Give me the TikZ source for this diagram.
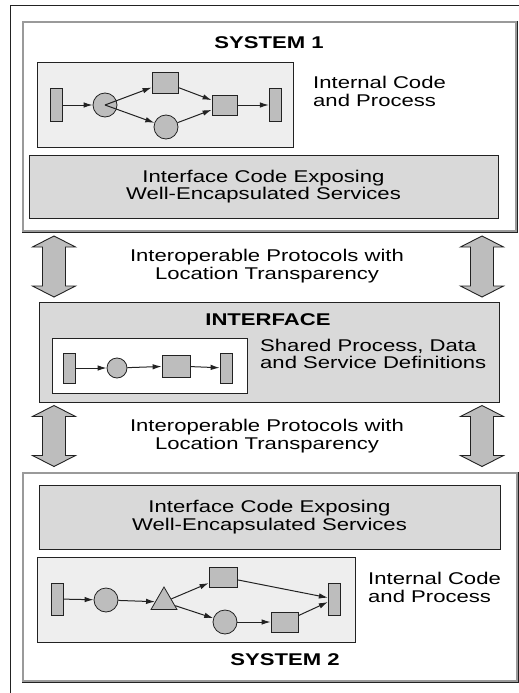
\documentclass[tikz,border=0pt]{standalone}
\usepackage{fontspec}
\newfontfamily\dgfam[FakeStretch=1.3]{Liberation Sans}
\newcommand\dgfont{\dgfam\fontsize{17pt}{17.5pt}\selectfont}
\usetikzlibrary{shapes.geometric,arrows.meta}
\definecolor{lightfill}{HTML}{EEEEEE}
\definecolor{midfill}{HTML}{D9D9D9}
\definecolor{shapegray}{HTML}{BDBDBD}
\definecolor{darkline}{HTML}{222222}
\definecolor{framegray}{HTML}{9A9A9A}
\tikzset{
  txt/.style={font=\dgfont, inner sep=0pt, align=center, text=black},
  txtl/.style={font=\dgfont, inner sep=0pt, align=left, text=black},
  ttl/.style={font=\dgfont\bfseries, inner sep=0pt},
  sysbox/.style={draw=darkline, line width=0.9pt, fill=white, rectangle, inner sep=0pt},
  sysinner/.style={draw=framegray, line width=1.4pt},
  procbox/.style={draw=darkline, line width=0.9pt, fill=lightfill, rectangle, inner sep=0pt},
  codebox/.style={draw=darkline, line width=0.9pt, fill=midfill, rectangle, inner sep=0pt, font=\dgfont, align=center},
  whitebox/.style={draw=darkline, line width=0.9pt, fill=white, rectangle, inner sep=0pt},
  bar/.style={draw=darkline, line width=0.8pt, fill=shapegray, rectangle, inner sep=0pt, minimum width=11.5pt, minimum height=33pt},
  blk/.style={draw=darkline, line width=0.8pt, fill=shapegray, rectangle, inner sep=0pt, minimum width=26pt, minimum height=21pt},
  circ/.style={draw=darkline, line width=0.8pt, fill=shapegray, circle, inner sep=0pt, minimum size=24pt},
  tri/.style={draw=darkline, line width=0.8pt, fill=shapegray, regular polygon, regular polygon sides=3, inner sep=0pt, minimum size=30pt},
  flow/.style={draw=darkline, line width=1pt, -{Latex[length=9pt,width=5.5pt]}},
  bigarrow/.style={draw=darkline, line width=0.9pt, fill=shapegray},
  dblarrow/.pic={\path[bigarrow] (0,-30.5) -- (21.5,-19.5) -- (11.5,-19.5) -- (11.5,19.5) -- (21.5,19.5) -- (0,30.5) -- (-21.5,19.5) -- (-11.5,19.5) -- (-11.5,-19.5) -- (-21.5,-19.5) -- cycle;}
}
\begin{document}
\begin{tikzpicture}[x=1pt,y=-1pt]
\useasboundingbox[fill=white] (0,0) rectangle (519,693);
% outer frame lines
\draw[darkline, line width=1pt] (10.5,693) -- (10.5,5.5) -- (519,5.5);

% ---------------- SYSTEM 1 ----------------
\node[sysbox, minimum width=495pt, minimum height=211pt] (sys1) at (269.5,126.5) {};
\draw[sysinner] ([shift={(1.5pt,-1.5pt)}]sys1.north west) rectangle ([shift={(-1.5pt,1.5pt)}]sys1.south east);
\node[ttl] (sys1t) at (269,43) {SYSTEM 1};
\node[procbox, minimum width=256pt, minimum height=85pt] (p1) at (165,104.5) {};
\node[txtl, anchor=west] (int1) at (313,91.5) {Internal Code\\and Process};
\node[codebox, minimum width=469pt, minimum height=63pt] (code1) at (263.5,186.5) {Interface Code Exposing\\Well-Encapsulated Services};

\node[bar] (b1l) at (56.5,105) {};
\node[circ] (c1) at (105,105) {};
\node[blk] (r1t) at (165,82.5) {};
\node[circ] (c1b) at (166,127) {};
\node[blk, minimum width=25pt, minimum height=20pt] (r1r) at (224.5,105) {};
\node[bar, minimum width=12.5pt] (b1r) at (275.5,105) {};
\draw[flow] (b1l) -- (c1);
\draw[flow] (c1.center) -- (r1t);
\draw[flow] (c1.center) -- (c1b);
\draw[flow] (r1t) -- (r1r);
\draw[flow] (c1b) -- (r1r);
\draw[flow] (r1r) -- (b1r);

% ---------------- upper protocol arrows ----------------
\pic at (54,266.5) {dblarrow};
\pic at (482,266.5) {dblarrow};
\node[txt] (prot1) at (267,266) {Interoperable Protocols with\\Location Transparency};

% ---------------- INTERFACE ----------------
\node[codebox, minimum width=460pt, minimum height=100pt] (iface) at (269,352) {};
\node[ttl] (ifacet) at (268,320) {INTERFACE};
\node[whitebox, minimum width=195pt, minimum height=55pt] (wi) at (149.5,365.5) {};
\node[txtl, anchor=west] (shared) at (260,354) {Shared Process, Data\\and Service Definitions};
\node[bar, minimum width=12pt, minimum height=30pt] (bil) at (69,368) {};
\node[circ, minimum size=20pt] (ci) at (117,368) {};
\node[blk, minimum width=28pt, minimum height=22pt] (ri) at (176,366) {};
\node[bar, minimum width=12pt, minimum height=30pt] (bir) at (226,368) {};
\draw[flow] (bil) -- (ci);
\draw[flow] (ci) -- (ri);
\draw[flow] (ri) -- (bir);

% ---------------- lower protocol arrows ----------------
\pic at (54,436) {dblarrow};
\pic at (482,436) {dblarrow};
\node[txt] (prot2) at (267,436) {Interoperable Protocols with\\Location Transparency};

% ---------------- SYSTEM 2 ----------------
\node[sysbox, minimum width=496pt, minimum height=210pt] (sys2) at (270,577) {};
\draw[sysinner] ([shift={(1.5pt,-1.5pt)}]sys2.north west) rectangle ([shift={(-1.5pt,1.5pt)}]sys2.south east);
\node[codebox, minimum width=461pt, minimum height=64pt] (code2) at (269.5,517) {Interface Code Exposing\\Well-Encapsulated Services};
\node[procbox, minimum width=318pt, minimum height=85pt] (p2) at (196,599.5) {};
\node[txtl, anchor=west] (int2) at (368,587.5) {Internal Code\\and Process};
\node[ttl] (sys2t) at (285,660) {SYSTEM 2};

\node[bar, minimum height=32pt] (b2l) at (57.5,599) {};
\node[circ] (c2) at (106,600) {};
\node[tri] (t2) at (164,602) {};
\node[blk, minimum width=28pt, minimum height=20pt] (r2t) at (223,577) {};
\node[circ] (c2b) at (225,622) {};
\node[blk, minimum width=27pt, minimum height=20pt] (r2b) at (284.5,622) {};
\node[bar, minimum width=12.5pt, minimum height=32pt] (b2r) at (334.5,599) {};
\draw[flow] (b2l) -- (c2);
\draw[flow] (c2) -- (t2);
\draw[flow] (t2) -- (r2t);
\draw[flow] (t2) -- (c2b);
\draw[flow] (r2t) -- (b2r);
\draw[flow] (c2b) -- (r2b);
\draw[flow] (r2b) -- (b2r);
\end{tikzpicture}
\end{document}
